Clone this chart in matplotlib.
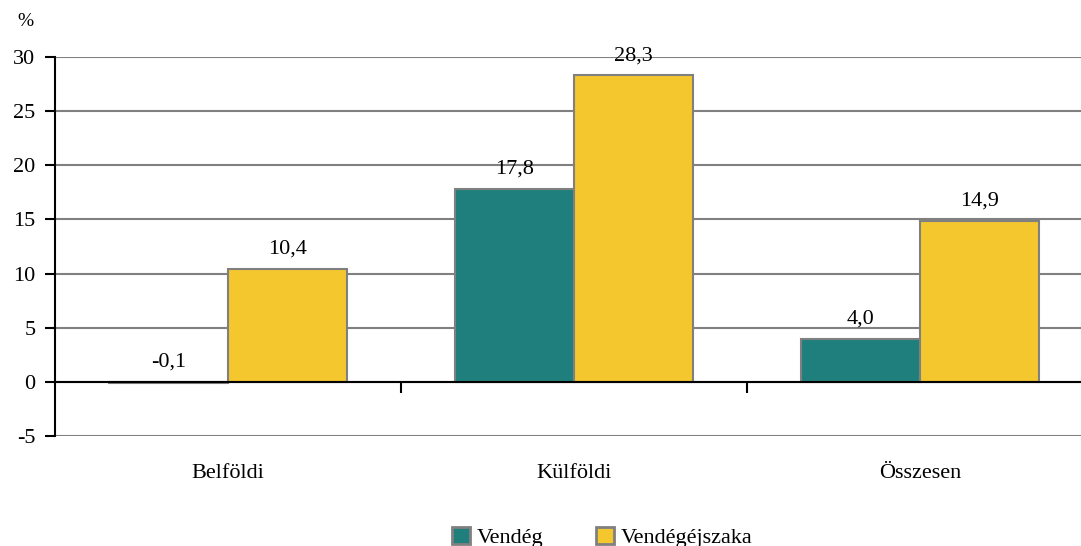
import numpy as np
import matplotlib.pyplot as plt

plt.rcParams['font.family'] = ['Liberation Serif', 'DejaVu Serif']

#%% data
categories = ['Belföldi', 'Külföldi', 'Összesen']
series = ['Vendég', 'Vendégéjszaka']
vendeg = [-0.1, 17.8, 4.0]
vendegejszaka = [10.4, 28.3, 14.9]
yticks = [-5, 0, 5, 10, 15, 20, 25, 30]

colors = ['#1e7f7c', '#f4c72e']
edge = '#808080'

#%% plot
fig = plt.figure(figsize=(10.81, 5.46), dpi=100)
ax = fig.add_axes([55/1081, 1 - 436/546, 1038/1081, 379/546])

x = np.arange(len(categories))
w = 0.344
for i, (vals, name) in enumerate(zip([vendeg, vendegejszaka], series)):
    pos = x + (i - 0.5) * w
    ax.bar(pos, vals, w, color=colors[i], edgecolor=edge, linewidth=1.5,
           label=name, zorder=3)
    for p, v in zip(pos, vals):
        ax.annotate(f'{v:.1f}'.replace('.', ','), (p, max(v, 0)),
                    xytext=(0, 11), textcoords='offset points',
                    ha='center', va='baseline', fontsize=16, zorder=4,
                    annotation_clip=False)

ax.set_xlim(-0.5, 2.5)
ax.set_ylim(-5, 30)
ax.set_yticks(yticks)
ax.set_yticklabels([str(t) for t in yticks], fontsize=16)
ax.yaxis.grid(True, color=edge, linewidth=1.5, zorder=0)
ax.tick_params(axis='y', direction='out', length=7, width=1.5, pad=7)

for s in ['top', 'right']:
    ax.spines[s].set_visible(False)
ax.spines['left'].set_linewidth(1.5)
ax.spines['bottom'].set_position(('data', 0))
ax.spines['bottom'].set_linewidth(1.5)
ax.spines['bottom'].set_zorder(5)
ax.set_xticks([0.5, 1.5])
ax.set_xticklabels([])
ax.tick_params(axis='x', direction='out', length=8, width=1.5)

for i, c in enumerate(categories):
    ax.text(i, -8.5, c, ha='center', va='center', fontsize=16)

fig.text(25/1081, 1 - 22/546, '%', ha='center', va='center', fontsize=14)

leg = fig.legend(loc='lower center', bbox_to_anchor=(0.557, -0.04), ncol=2,
                 frameon=False, fontsize=16, handlelength=0.8, handleheight=0.8,
                 columnspacing=2.4, handletextpad=0.3)
for h in leg.legend_handles:
    h.set_edgecolor(edge)
    h.set_linewidth(2)

fig.savefig('out.png', dpi=100)
